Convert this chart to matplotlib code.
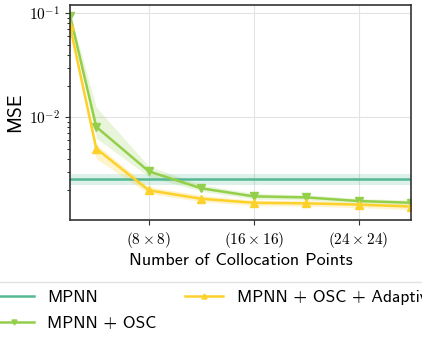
import numpy as np
import matplotlib
matplotlib.use("Agg")
import matplotlib.pyplot as plt
from matplotlib.ticker import LogLocator, NullFormatter

plt.rcParams['mathtext.fontset'] = 'cm'
plt.rcParams['font.family'] = ['cmss10', 'DejaVu Sans']
plt.rcParams['axes.unicode_minus'] = False

# collocation grid size (n x n)
n_pts = [2, 4, 8, 12, 16, 20, 24, 28]

# MPNN baseline (constant)
mpnn_mean = 2.54e-3
mpnn_lo = 2.25e-3
mpnn_hi = 2.88e-3

# MPNN + OSC
osc_mean = [0.095, 8.1e-3, 3.03e-3, 2.08e-3, 1.74e-3, 1.70e-3, 1.57e-3, 1.51e-3]
osc_lo = [0.090, 6.3e-3, 2.70e-3, 1.95e-3, 1.64e-3, 1.60e-3, 1.49e-3, 1.44e-3]
osc_hi = [0.100, 1.25e-2, 3.40e-3, 2.25e-3, 1.86e-3, 1.80e-3, 1.66e-3, 1.60e-3]

# MPNN + OSC + Adaptive
ada_mean = [0.075, 5.0e-3, 1.99e-3, 1.65e-3, 1.51e-3, 1.49e-3, 1.45e-3, 1.39e-3]
ada_lo = [0.068, 4.0e-3, 1.85e-3, 1.55e-3, 1.42e-3, 1.40e-3, 1.36e-3, 1.30e-3]
ada_hi = [0.080, 5.5e-3, 2.15e-3, 1.78e-3, 1.60e-3, 1.58e-3, 1.52e-3, 1.47e-3]

xticks = [8, 16, 24]
xticklabels = [r'$(8\times8)$', r'$(16\times16)$', r'$(24\times24)$']
yticks = [1e-2, 1e-1]
yticklabels = [r'$10^{-2}$', r'$10^{-1}$']

c_mpnn = '#55b893'
c_osc = '#93cf4a'
c_ada = '#fdd12c'

fig = plt.figure(figsize=(4.22, 3.37), dpi=100)
ax = fig.add_axes([0.166, 0.347, 0.808, 0.638])

ax.axhline(mpnn_mean, color=c_mpnn, lw=1.8, label='MPNN')
ax.axhspan(mpnn_lo, mpnn_hi, color=c_mpnn, alpha=0.2, lw=0)

ax.fill_between(n_pts, osc_lo, osc_hi, color=c_osc, alpha=0.2, lw=0)
ax.plot(n_pts, osc_mean, color=c_osc, lw=1.8, marker='v', ms=6,
        label='MPNN + OSC')

ax.fill_between(n_pts, ada_lo, ada_hi, color=c_ada, alpha=0.25, lw=0)
ax.plot(n_pts, ada_mean, color=c_ada, lw=1.8, marker='^', ms=6,
        label='MPNN + OSC + Adaptive')

ax.set_yscale('log')
ax.set_xlim(2, 28)
ax.set_ylim(1.03e-3, 0.12)
ax.set_xticks(xticks)
ax.set_xticklabels(xticklabels, fontsize=11)
ax.set_yticks(yticks)
ax.set_yticklabels(yticklabels, fontsize=11)
ax.yaxis.set_minor_locator(LogLocator(base=10, subs=np.arange(2, 10)))
ax.yaxis.set_minor_formatter(NullFormatter())
ax.tick_params(axis='both', direction='out', color='#333333')
ax.tick_params(axis='y', which='minor', length=2.5)
ax.grid(True, which='major', color='#e3e3e3', lw=0.8)
ax.set_axisbelow(True)
for s in ax.spines.values():
    s.set_color('#333333')
    s.set_linewidth(1.2)

ax.set_xlabel('Number of Collocation Points', fontsize=13, labelpad=2)
ax.set_ylabel('MSE', fontsize=14, labelpad=4)

h, l = ax.get_legend_handles_labels()
leg = fig.legend(h, l, ncol=2, loc='upper center', bbox_to_anchor=(0.51, 0.19),
                 fontsize=12.5, frameon=True, edgecolor='#dddddd',
                 handlelength=2.2, columnspacing=1.6, markerscale=0.6,
                 borderpad=0.5, labelspacing=0.58)
leg.get_frame().set_linewidth(1.0)

fig.savefig('out.png', dpi=100)
